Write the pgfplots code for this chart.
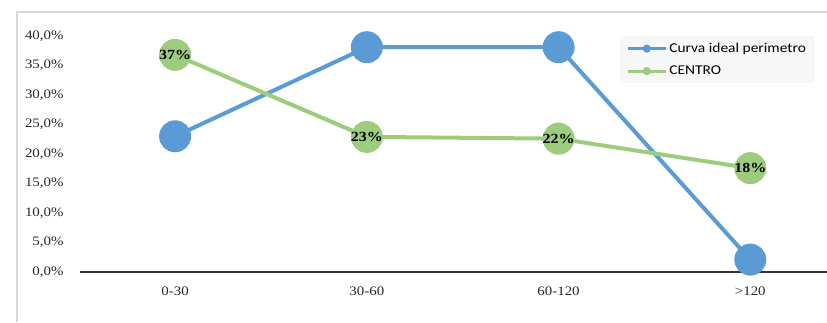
\documentclass[border=0pt]{standalone}
\usepackage{fontspec}
\setmainfont[FakeStretch=1.15]{Liberation Serif}
\newfontfamily\legfont[FakeStretch=1.15]{Carlito}
\usepackage{pgfplots}
\pgfplotsset{compat=1.18}
\definecolor{cblue}{HTML}{5B9BD5}
\definecolor{cgreen}{HTML}{9DCC7F}
\begin{document}
\begin{tikzpicture}[x=1bp,y=1bp]
\path[use as bounding box] (0,0) rectangle (827,322);
\draw[black!15, line width=1.2bp] (17,0) -- (17,310) -- (827,310);
\begin{axis}[at={(80bp,50bp)}, anchor=south west, scale only axis,
  width=747bp, height=236bp,
  xmin=-0.496, xmax=3.40, ymin=0, ymax=0.4, clip=false,
  axis lines=left, axis line style={-},
  y axis line style={draw=none},
  x axis line style={line width=2.6bp, black!80},
  major tick length=0,
  xtick={0,1,2,3}, xticklabels={0-30,30-60,60-120,>120},
  ytick={0,0.05,0.1,0.15,0.2,0.25,0.3,0.35,0.4},
  yticklabels={{0,0\%},{5,0\%},{10,0\%},{15,0\%},{20,0\%},{25,0\%},{30,0\%},{35,0\%},{40,0\%}},
  tick label style={font=\fontsize{13}{15}\selectfont, black!85},
  xticklabel style={yshift=-11bp},
  yticklabel style={xshift=-13bp},
  legend style={at={(0.723,1.0)}, anchor=north west, draw=none, fill=black!3,
    font=\legfont\fontsize{13.5}{15}\selectfont, row sep=8bp, inner xsep=6bp, inner ysep=5bp},
  legend cell align=left,
  legend image code/.code={\draw[#1, line width=3bp, mark size=2.5bp, mark repeat=2, mark phase=2] plot coordinates {(0bp,0bp) (19bp,0bp) (38bp,0bp)};},
]
\addplot[cblue, line width=4bp, mark=*, mark size=14bp, mark options={fill=cblue, draw=cblue}]
  coordinates {(0,0.23) (1,0.381) (2,0.381) (3,0.021)};
\addlegendentry{Curva ideal perimetro}
\addplot[cgreen, line width=4bp, mark=*, mark size=14bp, mark options={fill=cgreen, draw=cgreen},
  point meta=explicit symbolic, nodes near coords,
  every node near coord/.append style={anchor=center, text=black, font=\bfseries\fontsize{14}{16}\selectfont}]
  table[meta=lab] {
x y lab
0 0.368 37\%
1 0.229 23\%
2 0.226 22\%
3 0.176 18\%
};
\addlegendentry{CENTRO}
\end{axis}
\end{tikzpicture}
\end{document}
